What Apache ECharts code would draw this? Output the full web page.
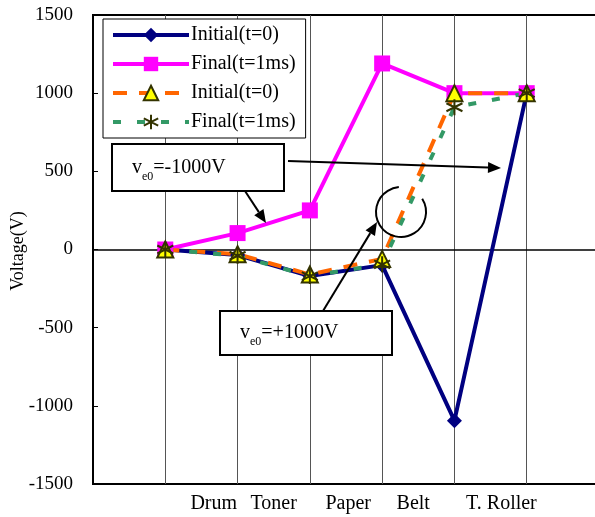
<!DOCTYPE html>
<html>
<head>
<meta charset="utf-8">
<script src="https://cdn.jsdelivr.net/npm/echarts@6/dist/echarts.min.js"></script>
<style>
    html, body { margin: 0; padding: 0; background: #fff; }
    #chart { width: 595px; height: 517px; }
</style>
</head>
<body>
<div id="chart"></div>
<script>
    // data
    var stations = [1, 2, 3, 4, 5, 6];
    var initialNeg = [0, -35, -170, -100, -1095, 1000];
    var finalNeg = [0, 105, 250, 1190, 1000, 1000];
    var initialPos = [0, -30, -160, -60, 1000, 1000];
    var finalPos = [0, -40, -170, -95, 910, 1000];
    var legendNames = ['Initial(t=0)', 'Final(t=1ms)', 'Initial(t=0)', 'Final(t=1ms)'];
    var sectionNames = ['Drum', 'Toner', 'Paper', 'Belt', 'T. Roller'];
    var sectionAt = [1.67, 2.5, 3.53, 4.43, 5.65];

    var FONT = 'Liberation Serif';
    var ids = ['s1', 's2', 's3', 's4'];
    var asterisk = 'path://M10,0L10,20M1.3,5L18.7,15M1.3,15L18.7,5';

    function pairs(vals) {
        return vals.map(function (v, i) { return [stations[i], v]; });
    }

    var myChart = echarts.init(document.getElementById('chart'));

    var option = {
        animation: false,
        backgroundColor: '#fff',
        grid: {
            left: 93, top: 15, right: -4, bottom: 33,
            containLabel: false, outerBoundsMode: 'none',
            show: true, borderColor: '#000', borderWidth: 2
        },
        legend: {
            left: 103, top: 19,
            orient: 'vertical',
            backgroundColor: '#fff',
            borderColor: '#000', borderWidth: 1,
            padding: [6, 10, 6, 8],
            itemWidth: 76, itemHeight: 18, itemGap: 9,
            lineStyle: { width: 4 },
            data: ids,
            formatter: function (name) { return legendNames[ids.indexOf(name)]; },
            textStyle: { fontFamily: FONT, fontSize: 20, color: '#000', padding: [0, 0, 0, -3] }
        },
        xAxis: {
            type: 'value', min: 0, max: 7, interval: 1,
            axisLine: { onZero: true, lineStyle: { color: '#000', width: 1.5 } },
            axisTick: { show: false },
            axisLabel: { show: false },
            splitLine: { show: true, lineStyle: { color: '#555', width: 1 } }
        },
        yAxis: {
            type: 'value', min: -1500, max: 1500, interval: 500,
            axisLine: { show: true, lineStyle: { color: '#000', width: 2 } },
            axisTick: { show: true, inside: true, length: 5, lineStyle: { color: '#000' } },
            axisLabel: {
                fontFamily: FONT, fontSize: 19, color: '#000', margin: 20,
                formatter: function (v) { return String(v); }
            },
            splitLine: { show: false }
        },
        series: [
            {
                name: 's1', type: 'line', data: pairs(initialNeg),
                symbol: 'diamond', symbolSize: 15,
                itemStyle: { color: '#000080' },
                lineStyle: { color: '#000080', width: 4 }
            },
            {
                name: 's2', type: 'line', data: pairs(finalNeg),
                symbol: 'rect', symbolSize: 16,
                itemStyle: { color: '#FF00FF' },
                lineStyle: { color: '#FF00FF', width: 4 }
            },
            {
                name: 's3', type: 'line', data: pairs(initialPos),
                symbol: 'triangle', symbolSize: 16,
                itemStyle: { color: '#FFFF00', borderColor: '#333300', borderWidth: 2 },
                lineStyle: { color: '#FF6600', width: 4, type: [14, 12] }
            },
            {
                name: 's4', type: 'line', data: pairs(finalPos),
                symbol: asterisk, symbolSize: 16,
                itemStyle: { color: '#333300', borderColor: '#333300', borderWidth: 2 },
                lineStyle: { color: '#339966', width: 4, type: [8, 16] }
            }
        ]
    };

    myChart.setOption(option, true);

    function arrow(x1, y1, x2, y2) {
        var a = Math.atan2(y2 - y1, x2 - x1), len = 13, half = 5.5;
        var bx = x2 - len * Math.cos(a), by = y2 - len * Math.sin(a);
        return [
            { type: 'line', z: 50, shape: { x1: x1, y1: y1, x2: bx, y2: by },
              style: { stroke: '#000', lineWidth: 2 } },
            { type: 'polygon', z: 50, shape: { points: [[x2, y2],
                [bx + half * Math.sin(a), by - half * Math.cos(a)],
                [bx - half * Math.sin(a), by + half * Math.cos(a)]] },
              style: { fill: '#000' } }
        ];
    }

    function noteBox(x, y, w, h, sign) {
        return [
            { type: 'rect', z: 60, shape: { x: x, y: y, width: w, height: h },
              style: { fill: '#fff', stroke: '#000', lineWidth: 2 } },
            { type: 'text', z: 61, x: x + 20, y: y + h / 2,
              style: {
                  text: '{v|v}{s|e0}{t|=' + sign + '1000V}',
                  verticalAlign: 'middle',
                  rich: {
                      v: { fontFamily: FONT, fontSize: 20, fill: '#000' },
                      s: { fontFamily: FONT, fontSize: 12, fill: '#000', padding: [18, 0, 0, 0] },
                      t: { fontFamily: FONT, fontSize: 20, fill: '#000' }
                  }
              } }
        ];
    }

    var graphics = [];
    graphics = graphics.concat(arrow(288, 161, 501, 168));
    graphics = graphics.concat(arrow(245, 191, 266, 223));
    graphics = graphics.concat(arrow(323, 311, 377, 222));
    graphics = graphics.concat(noteBox(112, 144, 172, 47, '-'));
    graphics = graphics.concat(noteBox(220, 311, 172, 44, '+'));
    graphics.push({
        type: 'arc', z: 50,
        shape: { cx: 401, cy: 212, r: 25, startAngle: -32 * Math.PI / 180, endAngle: 265 * Math.PI / 180, clockwise: true },
        style: { stroke: '#000', fill: 'none', lineWidth: 2 }
    });

    // y axis title
    graphics.push({
        type: 'text', x: 18, y: 251, rotation: Math.PI / 2,
        style: { text: 'Voltage(V)', fontFamily: FONT, fontSize: 18, fill: '#000', align: 'center', verticalAlign: 'middle' }
    });

    sectionNames.forEach(function (name, i) {
        var p = myChart.convertToPixel({ gridIndex: 0 }, [sectionAt[i], -1500]);
        graphics.push({
            type: 'text', x: p[0], y: p[1] + 20,
            style: { text: name, fontFamily: FONT, fontSize: 20, fill: '#000', align: 'center', verticalAlign: 'middle' }
        });
    });

    myChart.setOption({ graphic: graphics });
</script>
</body>
</html>
